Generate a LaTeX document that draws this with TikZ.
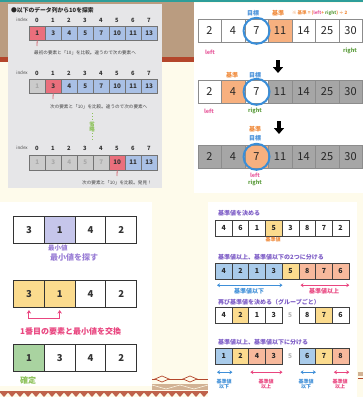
\documentclass[tikz,border=0pt]{standalone}
\usepackage{fontspec}
\setmainfont{Noto Sans CJK JP}
\usetikzlibrary{arrows.meta}
\definecolor{cream}{HTML}{FEFBEB}
\definecolor{brownband}{HTML}{BA9C80}
\definecolor{redstripe}{HTML}{B4462B}
\definecolor{tealc}{HTML}{2E9E9A}
\definecolor{tanc}{HTML}{D2B294}
\definecolor{panelgray}{HTML}{E6E6E8}
\definecolor{pinkcell}{HTML}{EA6F7C}
\definecolor{blucell}{HTML}{A9C0E5}
\definecolor{graycell}{HTML}{CBCBCB}
\definecolor{graytext}{HTML}{A8A8A8}
\definecolor{orcell}{HTML}{F7B07F}
\definecolor{darkcell}{HTML}{A6A6A6}
\definecolor{circblue}{HTML}{3A8ED8}
\definecolor{lblorange}{HTML}{F08A3A}
\definecolor{lblblue}{HTML}{4A92DA}
\definecolor{lblpink}{HTML}{E85A9C}
\definecolor{lblgreen}{HTML}{5E9E40}
\definecolor{purplecell}{HTML}{C6C6EB}
\definecolor{purpletext}{HTML}{9A7ED6}
\definecolor{yellowcell}{HTML}{FBDB8E}
\definecolor{greencell}{HTML}{A9D3A0}
\definecolor{greentext}{HTML}{8DC25A}
\definecolor{pinkarr}{HTML}{E9457F}
\definecolor{brblue}{HTML}{A9CBEA}
\definecolor{brsalmon}{HTML}{F7B99C}
\definecolor{brpurple}{HTML}{7C5BC6}
\definecolor{brbluetxt}{HTML}{3F8FD8}
\newcommand\fsz[1]{\fontsize{#1}{#1}\selectfont}
\tikzset{
 tlcell/.style={draw=black!55, line width=0.4pt, minimum width=16pt, minimum height=14pt, inner sep=0pt, anchor=north west, font=\fsz{6.3}\bfseries},
 idx/.style={font=\fsz{4.5}, text=black!70, inner sep=0pt},
 idxn/.style={font=\fsz{5.8}\bfseries, text=black!80, inner sep=0pt},
 capt/.style={font=\fsz{4.6}, text=black!75, inner sep=0pt, anchor=west},
 redmark/.style={draw=pinkcell!90!black, line width=0.8pt},
 trcell/.style={draw=black!45, line width=0.6pt, minimum width=23.5pt, minimum height=23pt, inner sep=0pt, anchor=north west, font=\fsz{11}, text=black!85},
 circ/.style={circle, draw=circblue, line width=2pt, minimum size=26pt, inner sep=0pt},
 lbl/.style={font=\fsz{6}\bfseries, inner sep=0pt},
 bigarrow/.style={line width=3.6pt, -{Triangle[width=10pt,length=6pt]}},
 blcell/.style={draw=black!80, line width=1.1pt, minimum width=30.75pt, minimum height=27pt, inner sep=0pt, anchor=north west, font=\fsz{9.5}\bfseries, text=black!80},
 brcell/.style={draw=black!75, line width=0.7pt, minimum width=16.7pt, minimum height=15.5pt, inner sep=0pt, anchor=north west, font=\fsz{7}\bfseries, text=black!85},
 brtitle/.style={font=\fsz{6}\bfseries, text=brpurple, inner sep=0pt, anchor=west},
 dbl/.style={line width=0.9pt, {Stealth[length=3pt,width=4pt]}-{Stealth[length=3pt,width=4pt]}},
 smlbl/.style={font=\fsz{5}\bfseries, inner sep=0pt, align=center},
}
\begin{document}
\begin{tikzpicture}[x=1pt,y=-1pt]
\useasboundingbox (0,0) rectangle (363,397);
\fill[cream] (0,0) rectangle (363,397);
% top bands
\fill[brownband] (0,2) rectangle (194,57);
\fill[redstripe] (0,57) rectangle (194,62);
\fill[tealc] (0,0) rectangle (363,2);

% ===== top-left panel =====
\fill[panelgray] (8,4) rectangle (162,188);
\node[font=\fsz{5.8}\bfseries, anchor=west, inner sep=0pt, text=black!85] (title) at (11,10) {●以下のデータ列から10を探索};
% row 1
\node[idx] (ia) at (22,20) {index};
\foreach \i in {0,...,7} \node[idxn] (ian\i) at ({37+16*\i},20) {\i};
\fill[black!40] (30,27.2) rectangle (158,41.3);
\foreach \v/\c/\t [count=\i from 0] in {1/pinkcell/black!80,3/blucell/black!80,4/blucell/black!80,5/blucell/black!80,7/blucell/black!80,10/blucell/black!80,11/blucell/black!80,13/blucell/black!80}
  \node[tlcell, fill=\c, text=\t] (ra\i) at ({29+16*\i},26) {\v};
\coordinate (ma) at (37,46);
\draw[redmark] (ra0.south) -- (ma);
\node[capt] (ca) at (34,53) {最初の要素と「10」を比較。違うので次の要素へ};
% row 2
\node[idx] (ib) at (22,73) {index};
\foreach \i in {0,...,7} \node[idxn] (ibn\i) at ({37+16*\i},73) {\i};
\fill[black!40] (30,80.2) rectangle (158,94.3);
\foreach \v/\c/\t [count=\i from 0] in {1/graycell/graytext,3/pinkcell/black!80,4/blucell/black!80,5/blucell/black!80,7/blucell/black!80,10/blucell/black!80,11/blucell/black!80,13/blucell/black!80}
  \node[tlcell, fill=\c, text=\t] (rb\i) at ({29+16*\i},79) {\v};
\coordinate (mb) at (53,99);
\draw[redmark] (rb1.south) -- (mb);
\node[capt] (cb) at (50,107) {次の要素と「10」を比較。違うので次の要素へ};
% omitted
\coordinate (ot) at (92,113);
\coordinate (ob) at (92,140);
\draw[greentext, dotted, line width=0.9pt] (ot) -- (ob);
\node[font=\fsz{5.5}\bfseries, text=greentext, align=center, fill=panelgray, inner sep=0.6pt] (om) at (92,127) {省\\[-0.5pt]略};
% row 3
\node[idx] (ic) at (22,148) {index};
\foreach \i in {0,...,7} \node[idxn] (icn\i) at ({37+16*\i},148) {\i};
\fill[black!40] (30,156.2) rectangle (158,171.3);
\foreach \v/\c/\t [count=\i from 0] in {1/graycell/graytext,3/graycell/graytext,4/graycell/graytext,5/graycell/graytext,7/graycell/graytext,10/pinkcell/black!80,11/blucell/black!80,13/blucell/black!80}
  \node[tlcell, fill=\c, text=\t, minimum height=15pt] (rc\i) at ({29+16*\i},155) {\v};
\coordinate (mc) at (117,176);
\draw[redmark] (rc5.south) -- (mc);
\node[capt] (cc) at (82,183) {次の要素と「10」を比較。発見！};

% ===== top-right panel =====
\fill[white] (194,3) rectangle (363,193);
\begin{scope}
\clip (194,3) rectangle (363,193);
\node[lbl, text=lblblue] (g1) at (253,13) {目標};
\node[lbl, text=lblorange] (k1) at (278,13) {基準};
\node[anchor=west, font=\fsz{4.5}\bfseries, inner sep=0pt] (form) at (292,13) {\textcolor{lblorange}{※ 基準 = (}\textcolor{lblpink}{left}\textcolor{lblorange}{ + }\textcolor{lblgreen}{right}\textcolor{lblorange}{) ÷ 2}};
\foreach \v/\c [count=\i from 0] in {2/white,4/white,7/white,11/orcell,14/white,25/white,30/white}
  \node[trcell, fill=\c] (pa\i) at ({197.5+23.5*\i},19) {\v};
\node[circ] (cia) at (pa2.center) {};
\node[lbl, text=lblpink, font=\fsz{5.5}\bfseries] (la) at (210,52) {left};
\node[lbl, text=lblgreen, font=\fsz{5.5}\bfseries] (rta) at (350,51) {right};
\coordinate (a1s) at (278,60);
\coordinate (a1e) at (278,73);
\draw[bigarrow] (a1s) -- (a1e);
\node[lbl, text=lblorange] (k2) at (232,75) {基準};
\node[lbl, text=lblblue] (g2) at (255,75) {目標};
\foreach \v/\c [count=\i from 0] in {2/white,4/orcell,7/white,11/darkcell,14/darkcell,25/darkcell,30/darkcell}
  \node[trcell, fill=\c] (pb\i) at ({197.5+23.5*\i},80) {\v};
\node[circ] (cib) at (pb2.center) {};
\node[lbl, text=lblpink, font=\fsz{5.5}\bfseries] (lb) at (209,111) {left};
\node[lbl, text=lblgreen, font=\fsz{5.5}\bfseries] (rtb) at (255,111) {right};
\coordinate (a2s) at (279,121);
\coordinate (a2e) at (279,134);
\draw[bigarrow] (a2s) -- (a2e);
\node[lbl, text=lblorange] (k3) at (255,129) {基準};
\node[lbl, text=lblblue] (g3) at (255,138) {目標};
\foreach \v/\c [count=\i from 0] in {2/darkcell,4/darkcell,7/orcell,11/darkcell,14/darkcell,25/darkcell,30/darkcell}
  \node[trcell, fill=\c] (pc\i) at ({197.5+23.5*\i},145) {\v};
\node[circ] (cic) at (pc2.center) {};
\node[lbl, text=lblpink, font=\fsz{5.5}\bfseries] (lc) at (255,175) {left};
\node[lbl, text=lblgreen, font=\fsz{5.5}\bfseries] (rtc) at (255,183) {right};
\end{scope}

% ===== bottom-left panel =====
\fill[white] (0,202) rectangle (152,386);
\foreach \v/\c [count=\i from 0] in {3/white,1/purplecell,4/white,2/white}
  \node[blcell, fill=\c] (sa\i) at ({13+30.75*\i},216) {\v};
\node[font=\fsz{6.5}\bfseries, text=purpletext, inner sep=0pt, anchor=west] (mn1) at (48,248) {最小値};
\node[font=\fsz{8}\bfseries, text=purpletext, inner sep=0pt, anchor=west] (mn2) at (50,257) {最小値を探す};
\foreach \v/\c [count=\i from 0] in {3/yellowcell,1/yellowcell,4/white,2/white}
  \node[blcell, fill=\c] (sb\i) at ({13+30.75*\i},280) {\v};
\draw[pinkarr, line width=1pt, {Stealth[length=3.5pt,width=4.5pt]}-{Stealth[length=3.5pt,width=4.5pt]}] ([yshift=-2pt]sb0.south) -- ++(0,8) -| ([yshift=-2pt]sb1.south);
\node[font=\fsz{8}\bfseries, text=pinkarr, inner sep=0pt, anchor=west] (swp) at (20,331) {1番目の要素と最小値を交換};
\foreach \v/\c [count=\i from 0] in {1/greencell,3/white,4/white,2/white}
  \node[blcell, fill=\c] (sc\i) at ({13+30.75*\i},344) {\v};
\node[font=\fsz{8}\bfseries, text=greentext, inner sep=0pt, anchor=west] (fix) at (20,380) {確定};

% ===== bottom-right panel =====
\fill[white] (208,202) rectangle (357,397);
\node[brtitle] (t1) at (218,213) {基準値を決める};
\foreach \v/\c [count=\i from 0] in {4/white,6/white,1/white,5/yellowcell,3/white,8/white,7/white,2/white}
  \node[brcell, fill=\c] (qa\i) at ({215+16.7*\i},220) {\v};
\node[smlbl, text=lblorange] (kv) at (273,240) {基準値};
\node[brtitle] (t2) at (218,257) {基準値以上、基準値以下の2つに分ける};
\foreach \v/\c [count=\i from 0] in {4/brblue,2/brblue,1/brblue,3/brblue,5/yellowcell,8/brsalmon,7/brsalmon,6/brsalmon}
  \node[brcell, fill=\c] (qb\i) at ({215+16.7*\i},263) {\v};
\draw[dbl, brbluetxt] ([shift={(2pt,-6pt)}]qb0.south west) -- ([shift={(0pt,-6pt)}]qb3.south east);
\draw[dbl, pinkarr] ([shift={(2pt,-6pt)}]qb5.south west) -- ([shift={(0pt,-6pt)}]qb7.south east);
\node[smlbl, text=brbluetxt, font=\fsz{6}\bfseries] (le1) at (249,291) {基準値以下};
\node[smlbl, text=pinkarr, font=\fsz{6}\bfseries] (ge1) at (324,291) {基準値以上};
\node[brtitle] (t3) at (218,302) {再び基準値を決める（グループごと）};
\foreach \i/\v/\c in {0/4/white,1/2/yellowcell,2/1/white,3/3/white,5/8/white,6/7/yellowcell,7/6/white}
  \node[brcell, fill=\c] (qc\i) at ({215+16.7*\i},307) {\v};
\node[font=\fsz{6.5}\bfseries, text=black!30, inner sep=0pt] (qc4) at ({215+16.7*4.5},315) {5};
\node[brtitle] (t4) at (218,342) {基準値以上、基準値以下に分ける};
\foreach \i/\v/\c in {0/1/brblue,1/2/yellowcell,2/4/brsalmon,3/3/brsalmon,5/6/brblue,6/7/yellowcell,7/8/brsalmon}
  \node[brcell, fill=\c] (qd\i) at ({215+16.7*\i},348) {\v};
\node[font=\fsz{6.5}\bfseries, text=black!30, inner sep=0pt] (qd4) at ({215+16.7*4.5},356) {5};
\draw[dbl, brbluetxt] ([shift={(2pt,-8pt)}]qd0.south west) -- ([shift={(0pt,-8pt)}]qd0.south east);
\draw[dbl, pinkarr] ([shift={(2pt,-8pt)}]qd2.south west) -- ([shift={(0pt,-8pt)}]qd3.south east);
\draw[dbl, brbluetxt] ([shift={(2pt,-8pt)}]qd5.south west) -- ([shift={(0pt,-8pt)}]qd5.south east);
\draw[dbl, pinkarr] ([shift={(2pt,-8pt)}]qd7.south west) -- ([shift={(0pt,-8pt)}]qd7.south east);
\node[smlbl, text=brbluetxt] (s1) at (224,384) {基準値\\以下};
\node[smlbl, text=pinkarr] (s2) at (266,384) {基準値\\以上};
\node[smlbl, text=brbluetxt] (s3) at (306,384) {基準値\\以下};
\node[smlbl, text=pinkarr] (s4) at (340,384) {基準値\\以上};

% ===== decorations =====
\draw[redstripe, line width=0.8pt] (152,379) -- (208,379);
\foreach \xx in {162,190}
  \draw[redstripe, fill=cream, line width=0.7pt] ({\xx-7},379) -- (\xx,376) -- ({\xx+7},379) -- (\xx,382) -- cycle;
\fill[tanc] (152,384) rectangle (208,390);
\draw[cream, line width=0.5pt] (152,385) -- (166,389) -- (180,385) -- (194,389) -- (208,385);
\fill[redstripe!85] (0,390.5) rectangle (208,392.5);
\foreach \k in {0,...,25}
  \fill[redstripe!85] ({\k*8},392.5) -- ({\k*8+8},392.5) -- ({\k*8+4},397) -- cycle;
\fill[tanc] (358,372) rectangle (363,376);
\draw[redstripe, line width=0.6pt] (358,378) -- (363,378);
\end{tikzpicture}
\end{document}
